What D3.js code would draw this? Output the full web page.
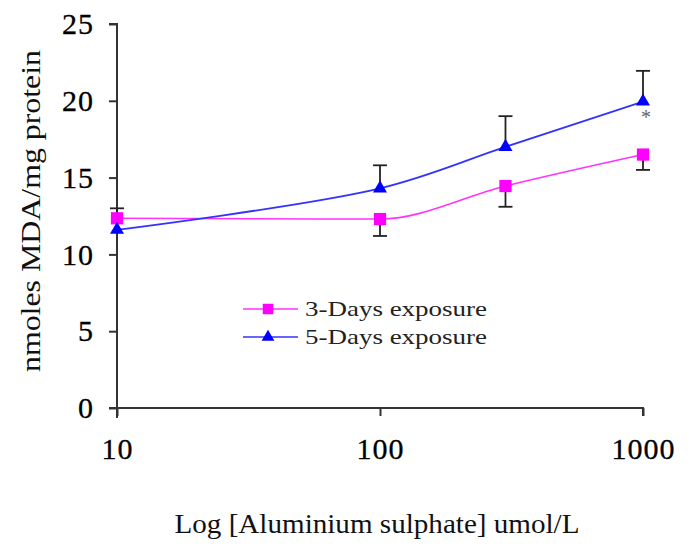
<!DOCTYPE html>
<html><head><meta charset="utf-8">
<script src="https://cdn.jsdelivr.net/npm/d3@7"></script>
<style>body{margin:0;background:#fff}svg{display:block}</style>
</head><body>
<script>
const concentrations = [10, 100, 300, 1000];
const days3 = [12.35, 12.3, 14.45, 16.5];
const days3ErrLow = [null, 11.2, 13.1, 15.5];
const days3ErrHigh = [13.0, null, null, null];
const days5 = [11.6, 14.3, 17.0, 19.95];
const days5ErrHigh = [null, 15.8, 19.0, 21.95];
const xTicks = [10, 100, 1000];
const yTicks = [0, 5, 10, 15, 20, 25];
const seriesNames = ["3-Days exposure", "5-Days exposure"];

const W = 693, H = 552;
const svg = d3.select("body").append("svg").attr("width", W).attr("height", H);
const x = d3.scaleLog().domain([10, 1000]).range([117, 643]);
const y = d3.scaleLinear().domain([0, 25]).range([408, 24]);
const font = "'Liberation Serif', 'Times New Roman', serif";
const axisCol = "#333";

// axes
const yAxis = svg.append("g").attr("transform", "translate(117,0)")
  .call(d3.axisLeft(y).tickValues(yTicks).tickSize(8).tickPadding(15).tickFormat(d3.format("d")));
const xAxis = svg.append("g").attr("transform", "translate(0,408)")
  .call(d3.axisBottom(x).tickValues(xTicks).tickSize(8).tickPadding(22).tickFormat(d3.format("d")));
[yAxis, xAxis].forEach(g => {
  g.select(".domain").attr("stroke", axisCol).attr("stroke-width", 2);
  g.selectAll(".tick line").attr("stroke", axisCol).attr("stroke-width", 2);
  g.selectAll(".tick text").attr("fill", "#000").style("font-family", font).style("font-size", "30px")
    .style("letter-spacing", "1px").attr("stroke", "#000").attr("stroke-width", 0.3);
});
yAxis.select(".domain").attr("d", "M0,418V24H-8");
xAxis.select(".domain").attr("d", "M-8,0H526V8").attr("transform", "translate(117,0)");

// lines
const pts3 = concentrations.map((c, i) => [x(c), y(days3[i])]);
const pts5 = concentrations.map((c, i) => [x(c), y(days5[i])]);
svg.append("path").attr("d", d3.line().curve(d3.curveMonotoneX)(pts3)).attr("fill", "none").attr("stroke", "#ff33ff").attr("stroke-width", 1.6);
svg.append("path").attr("d", d3.line().curve(d3.curveCatmullRom.alpha(0.5))(pts5)).attr("fill", "none").attr("stroke", "#3333ff").attr("stroke-width", 1.8);

// error bars
function errBar(c, v, e) {
  if (e == null) return;
  const xx = x(c);
  svg.append("line").attr("x1", xx).attr("x2", xx).attr("y1", y(v)).attr("y2", y(e)).attr("stroke", "#222").attr("stroke-width", 1.8);
  svg.append("line").attr("x1", xx - 7).attr("x2", xx + 7).attr("y1", y(e)).attr("y2", y(e)).attr("stroke", "#222").attr("stroke-width", 1.8);
}
concentrations.forEach((c, i) => {
  errBar(c, days3[i], days3ErrLow[i]);
  errBar(c, days3[i], days3ErrHigh[i]);
  errBar(c, days5[i], days5ErrHigh[i]);
});

// markers
const sq = d3.symbol().type(d3.symbolSquare).size(150);
const tri = d3.symbol().type(d3.symbolTriangle).size(85);
svg.selectAll(".m3").data(pts3).join("path").attr("d", sq).attr("transform", d => `translate(${d[0]},${d[1]})`).attr("fill", "#ff00ff");
svg.selectAll(".m5").data(pts5).join("path").attr("d", tri).attr("transform", d => `translate(${d[0]},${d[1]})`).attr("fill", "#0000ff");

// asterisk
svg.append("text").attr("x", x(1000) + 3).attr("y", y(days5[3]) + 22).attr("text-anchor", "middle")
  .style("font-family", font).style("font-size", "20px").attr("fill", "#666").text("*");

// legend
const leg = svg.append("g");
const legItems = [{name: seriesNames[0], col: "#ff33ff", fill: "#ff00ff", sym: d3.symbol().type(d3.symbolSquare).size(110), yy: 309},
                  {name: seriesNames[1], col: "#3333ff", fill: "#0000ff", sym: d3.symbol().type(d3.symbolTriangle).size(70), yy: 337}];
legItems.forEach(d => {
  leg.append("line").attr("x1", 243).attr("x2", 298).attr("y1", d.yy).attr("y2", d.yy).attr("stroke", d.col).attr("stroke-width", 1.6);
  leg.append("path").attr("d", d.sym()).attr("transform", `translate(268,${d.yy})`).attr("fill", d.fill);
  leg.append("text").attr("x", 305).attr("y", d.yy + 7).style("font-family", font).style("font-size", "21px")
    .attr("textLength", 182).attr("lengthAdjust", "spacingAndGlyphs").attr("fill", "#222").text(d.name);
});

// axis titles
svg.append("text").attr("x", 377).attr("y", 533).attr("text-anchor", "middle")
  .style("font-family", font).style("font-size", "27px").attr("textLength", 405).attr("lengthAdjust", "spacingAndGlyphs")
  .attr("fill", "#111").text("Log [Aluminium sulphate] umol/L");
svg.append("text").attr("transform", "translate(40,211) rotate(-90)").attr("text-anchor", "middle")
  .style("font-family", font).style("font-size", "27px").attr("textLength", 322).attr("lengthAdjust", "spacingAndGlyphs")
  .attr("fill", "#111").text("nmoles MDA/mg protein");
</script>
</body></html>
